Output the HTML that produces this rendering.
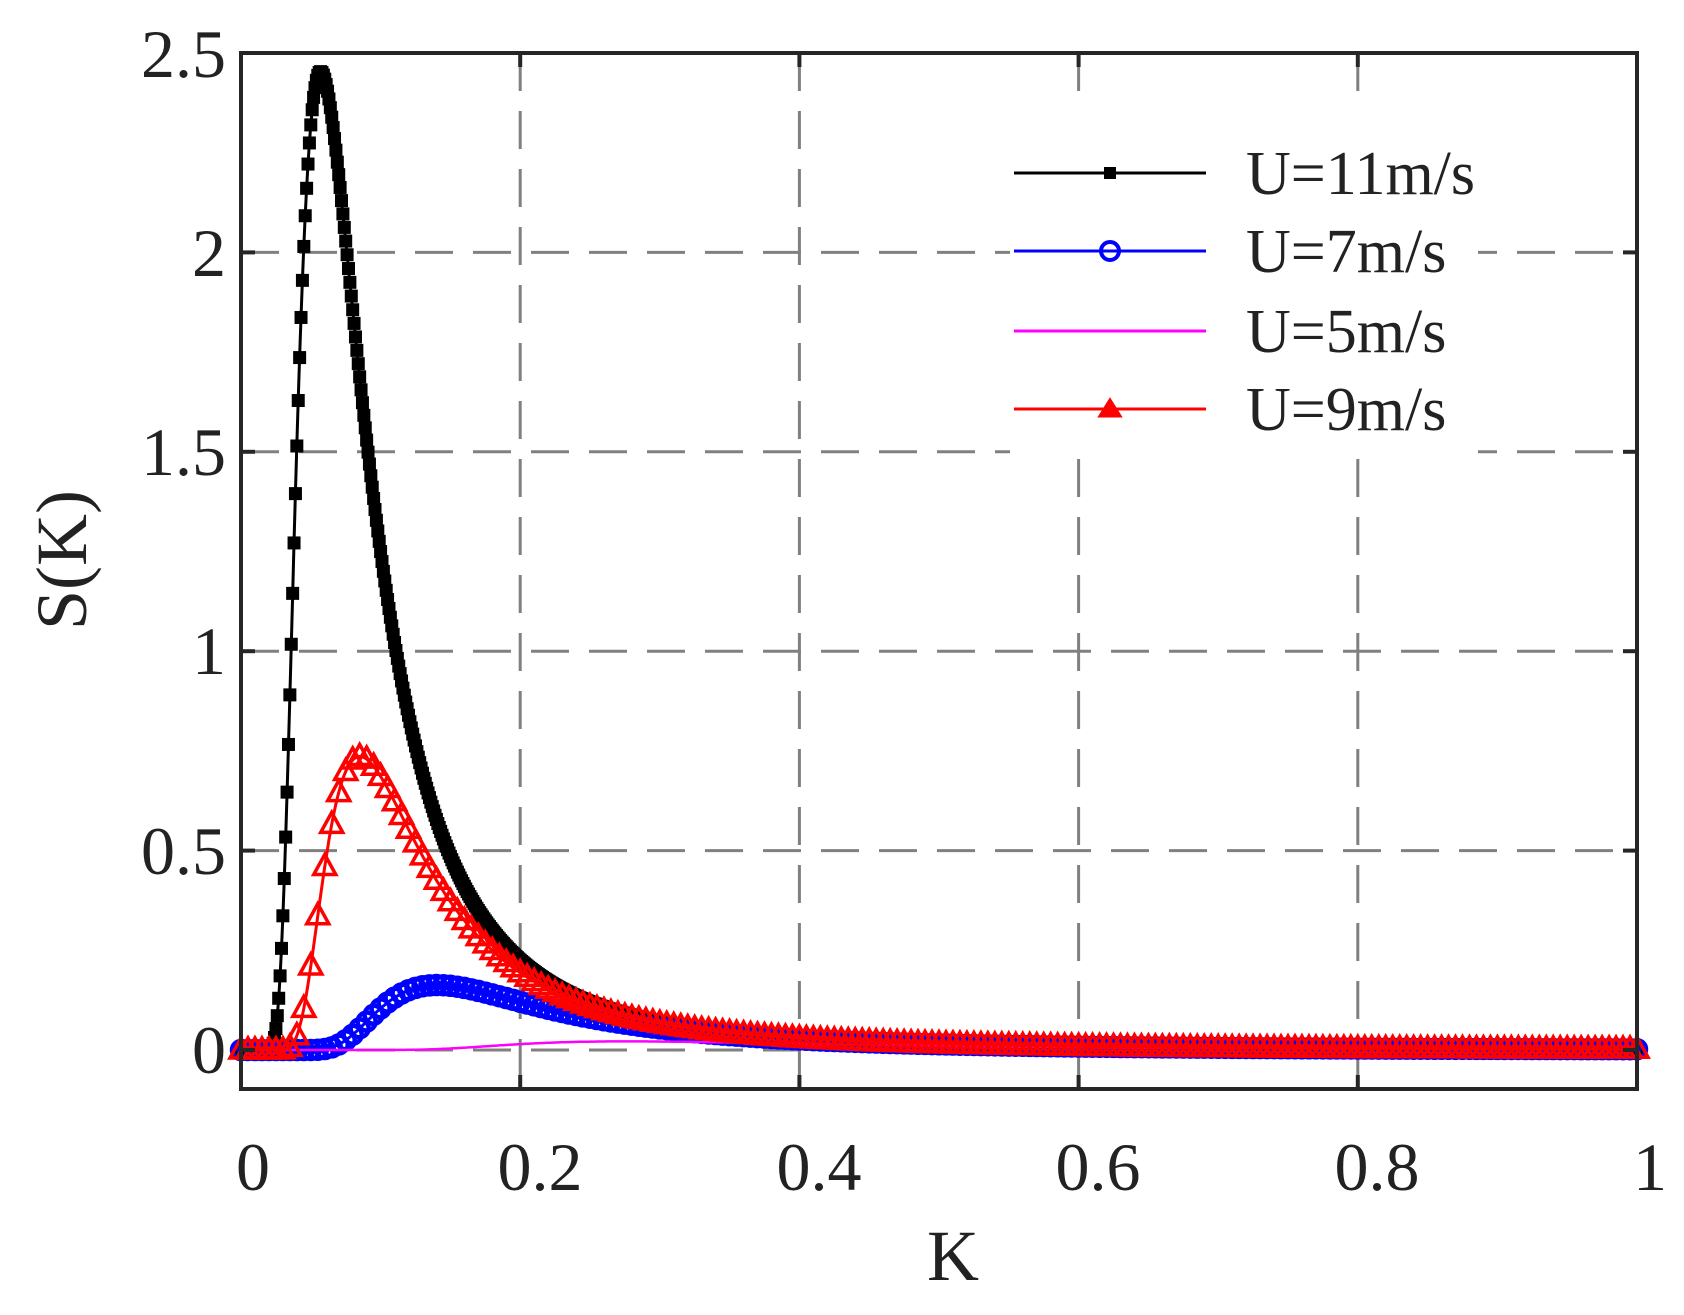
<!DOCTYPE html>
<html><head><meta charset="utf-8"><style>
html,body{margin:0;padding:0;background:#fff;}
svg text{font-family:"Liberation Serif",serif;fill:#222;}
</style></head><body>
<svg id="s" width="1684" height="1310" viewBox="0 0 1684 1310" xmlns="http://www.w3.org/2000/svg">
<rect width="1684" height="1310" fill="#fff"/>
<g id="grid" stroke="#808080" stroke-width="3" stroke-dasharray="38,20" fill="none"></g>
<g id="data"></g>
<rect x="1010" y="100" width="468" height="355" fill="#fff"/>
<g id="axes"></g>
<g font-size="62">
<text x="1246" y="194">U=11m/s</text>
<text x="1246" y="272">U=7m/s</text>
<text x="1246" y="352">U=5m/s</text>
<text x="1246" y="430">U=9m/s</text>
</g>
<g stroke-width="3">
<line x1="1014" y1="173" x2="1206" y2="173" stroke="#000"/>
<rect x="1104" y="167" width="12" height="12" fill="#000"/>
<line x1="1014" y1="251" x2="1206" y2="251" stroke="#0000ff"/>
<circle cx="1110" cy="251" r="9" fill="none" stroke="#0000ff" stroke-width="4"/>
<line x1="1014" y1="331" x2="1206" y2="331" stroke="#ff00ff"/>
<line x1="1014" y1="409" x2="1206" y2="409" stroke="#ff0000"/>
<path d="M1110 400 L1120 416 L1100 416 Z" fill="#ff0000" stroke="#ff0000"/>
</g>
<g font-size="68" text-anchor="end">
<text x="226" y="1073">0</text>
<text x="226" y="874">0.5</text>
<text x="226" y="674">1</text>
<text x="226" y="475">1.5</text>
<text x="226" y="276">2</text>
<text x="226" y="77">2.5</text>
</g>
<g font-size="68" text-anchor="middle">
<text x="253" y="1190">0</text>
<text x="540" y="1190">0.2</text>
<text x="819" y="1190">0.4</text>
<text x="1098" y="1190">0.6</text>
<text x="1377" y="1190">0.8</text>
<text x="1650" y="1190">1</text>
<text x="953" y="1280" font-size="72">K</text>
</g>
<text transform="translate(86,560) rotate(-90)" font-size="72" text-anchor="middle">S(K)</text>
</svg>
<script>
(function(){
var NS="http://www.w3.org/2000/svg";
var X0=241,X1=1637,Y0=1050,YT=53,YB=1089;
function px(k){return X0+k*(X1-X0);}
function py(v){return Y0-v*(Y0-YT)/2.5;}
function el(p,t,a){var e=document.createElementNS(NS,t);for(var k in a)e.setAttribute(k,a[k]);p.appendChild(e);return e;}
var g=document.getElementById('grid');
[0.2,0.4,0.6,0.8].forEach(function(k){el(g,'line',{x1:px(k),y1:YT,x2:px(k),y2:YB});});
[0,0.5,1,1.5,2].forEach(function(v){el(g,'line',{x1:X0,y1:py(v),x2:X1,y2:py(v)});});
var a=document.getElementById('axes');
el(a,'rect',{x:X0,y:YT,width:X1-X0,height:YB-YT,fill:'none',stroke:'#262626','stroke-width':4});
var at={stroke:'#262626','stroke-width':4};
[0.2,0.4,0.6,0.8].forEach(function(k){el(a,'line',Object.assign({x1:px(k),y1:YB,x2:px(k),y2:YB-14},at));el(a,'line',Object.assign({x1:px(k),y1:YT,x2:px(k),y2:YT+14},at));});
[0,0.5,1,1.5,2].forEach(function(v){el(a,'line',Object.assign({x1:X0,y1:py(v),x2:X0+14,y2:py(v)},at));el(a,'line',Object.assign({x1:X1,y1:py(v),x2:X1-14,y2:py(v)},at));});
var A=0.002034;
function S(k,U){if(k<=0)return 0;var b=0.00487*Math.pow(11/U,4);return A/(k*k*k)*Math.exp(-b/(k*k));}
var d=document.getElementById('data');
function series(U,col,mk,step){
 var pts=[];for(var i=0;i<=1000;i++){var k=i/1000;pts.push(px(k).toFixed(1)+','+py(S(k,U)).toFixed(1));}
 el(d,'polyline',{points:pts.join(' '),fill:'none',stroke:col,'stroke-width':mk?3:2.5});
 if(!mk)return;
 for(var k=0;k<=1.00001;k+=step){var x=px(k),y=py(S(k,U));
  if(mk=='sq')el(d,'rect',{x:x-6.5,y:y-6.5,width:13,height:13,fill:'#000'});
  else if(mk=='c')el(d,'circle',{cx:x,cy:y,r:9,fill:'none',stroke:col,'stroke-width':4.5});
  else el(d,'path',{d:'M'+x+' '+(y-12)+' L'+(x+11)+' '+(y+8)+' L'+(x-11)+' '+(y+8)+' Z',fill:'none',stroke:col,'stroke-width':3.5});
 }
}
series(11,'#000','sq',0.001);
series(7,'#0000ff','c',0.005);
series(5,'#ff00ff',null,0);
series(9,'#ff0000','t',0.005);
})();
</script>
</body></html>
